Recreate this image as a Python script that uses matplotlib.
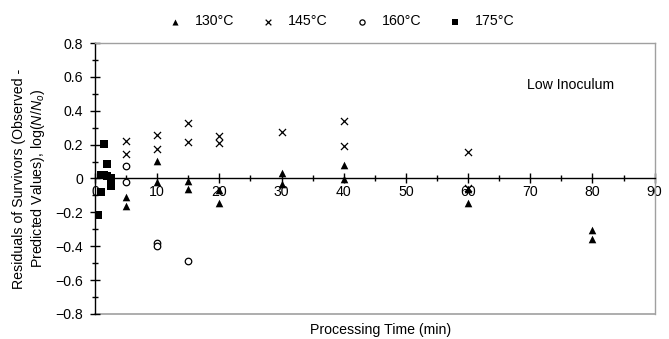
import matplotlib
matplotlib.use("Agg")
import matplotlib.pyplot as plt
from matplotlib.ticker import MultipleLocator, FuncFormatter

plt.rcParams['font.family'] = ['Liberation Sans', 'DejaVu Sans']
plt.rcParams['mathtext.fontset'] = 'custom'
plt.rcParams['mathtext.rm'] = 'Liberation Sans'
plt.rcParams['mathtext.it'] = 'Liberation Sans:italic'

# 130 °C
t130 = [5, 5, 10, 10, 15, 15, 20, 20, 30, 30, 40, 40, 60, 60, 80, 80]
r130 = [-0.11, -0.16, 0.105, -0.02, -0.015, -0.06, -0.07, -0.145, 0.03, -0.03, 0.08, -0.003, -0.065, -0.145, -0.305, -0.36]
# 145 °C
t145 = [5, 5, 10, 10, 15, 15, 20, 20, 30, 40, 40, 60, 60]
r145 = [0.22, 0.145, 0.255, 0.175, 0.33, 0.218, 0.25, 0.212, 0.275, 0.34, 0.192, 0.155, -0.055]
# 160 °C
t160 = [5, 5, 10, 10, 15]
r160 = [0.075, -0.02, -0.383, -0.398, -0.487]
# 175 °C
t175 = [0.5, 1.0, 1.0, 1.5, 1.5, 2.0, 2.0, 2.5, 2.5]
r175 = [-0.215, -0.08, 0.02, 0.205, 0.018, 0.085, 0.012, -0.045, 0.005]

labels = ['130°C', '145°C', '160°C', '175°C']

FS = 10.2

fig = plt.figure(figsize=(6.69, 3.39), dpi=100)
ax = fig.add_axes([0.1420, 0.074, 0.9785 - 0.1420, 0.873 - 0.074])

ax.scatter(t130, r130, marker='^', s=30, c='black', linewidths=0, label=labels[0], zorder=3)
ax.scatter(t145, r145, marker='x', s=26, c='black', linewidths=0.9, label=labels[1], zorder=3)
ax.scatter(t160, r160, marker='o', s=22, facecolors='white', edgecolors='black', linewidths=0.9, label=labels[2], zorder=3)
ax.scatter(t175, r175, marker='s', s=32, c='black', linewidths=0, label=labels[3], zorder=3)

ax.set_xlim(0, 90)
ax.set_ylim(-0.8, 0.8)

ax.spines['bottom'].set_position(('data', 0))
ax.spines['bottom'].set_color('black')
ax.spines['bottom'].set_linewidth(1.0)
ax.spines['left'].set_color('black')
ax.spines['left'].set_linewidth(1.0)
for s in ['top', 'right']:
    ax.spines[s].set_color('#a0a0a0')
    ax.spines[s].set_linewidth(1.0)
ax.axhline(-0.8, color='#a0a0a0', lw=1.2, clip_on=False, zorder=1)

ax.xaxis.set_major_locator(MultipleLocator(10))
ax.xaxis.set_minor_locator(MultipleLocator(5))
ax.yaxis.set_major_locator(MultipleLocator(0.2))
ax.yaxis.set_minor_locator(MultipleLocator(0.1))
ax.yaxis.set_major_formatter(FuncFormatter(lambda v, p: '0' if abs(v) < 1e-9 else f'{v:.1f}'.replace('-', '\u2212')))
ax.tick_params(axis='both', which='major', direction='inout', length=7, width=1, labelsize=FS, color='black')
ax.tick_params(axis='both', which='minor', direction='inout', length=5, width=1, color='black')
ax.tick_params(axis='x', pad=1)
ax.tick_params(axis='y', pad=5)

ax.set_xlabel('Processing Time (min)', fontsize=FS, labelpad=0)
ax.xaxis.set_label_coords(0.51, -0.035)
ax.set_ylabel('Residuals of Survivors (Observed -\nPredicted Values), log($\\mathit{N/N_o}$)', fontsize=FS, linespacing=1.25)
ax.yaxis.set_label_coords(-0.085, 0.5)

ax.text(69.5, 0.55, 'Low Inoculum', fontsize=FS, va='center', ha='left')

fig.legend(loc='upper center', bbox_to_anchor=(0.51, 0.995), ncol=4, frameon=False, fontsize=FS,
           handletextpad=0.9, columnspacing=1.9, markerscale=0.8, handlelength=1.0)

fig.savefig('out.png', dpi=100)
